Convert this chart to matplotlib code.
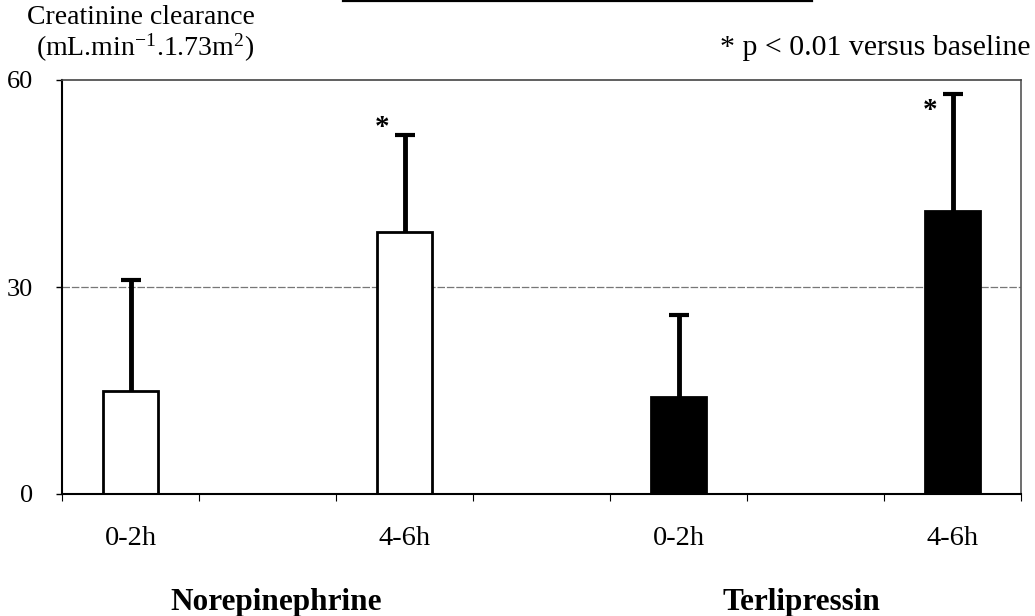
import matplotlib
matplotlib.use("Agg")
import matplotlib.pyplot as plt
from matplotlib.lines import Line2D

plt.rcParams["font.family"] = ["Liberation Serif", "DejaVu Serif"]
plt.rcParams["mathtext.fontset"] = "stix"

periods = ["0-2h", "4-6h", "0-2h", "4-6h"]
groups = ["Norepinephrine", "Terlipressin"]
means = [15, 38, 14, 41]
sds = [16, 14, 12, 17]
significant = [False, True, False, True]

slots = [0, 2, 4, 6]  # empty slots between bars
fills = ["white", "white", "black", "black"]

fig = plt.figure(figsize=(10.35, 6.16), dpi=100)
ax = fig.add_axes([62 / 1035, 122 / 616, 959 / 1035, 414 / 616])

ax.axhline(30, color="#777777", lw=0.9, ls=(0, (6, 1.5)), zorder=0)
ax.bar(slots, means, width=0.4, color=fills, edgecolor="black", linewidth=2, zorder=2)
_, caps, _ = ax.errorbar(slots, means, yerr=[[0] * len(sds), sds], fmt="none",
                         ecolor="black", elinewidth=3.5, capsize=7.5, capthick=3, zorder=3)
caps[0].set_visible(False)  # only the upper cap

# significance stars next to the caps
star_offsets = {1: 8, 3: -17}
for i, sig in enumerate(significant):
    if sig:
        ax.annotate("*", (slots[i], means[i] + sds[i]), xytext=(-22, star_offsets[i]),
                    textcoords="offset pixels", ha="center", va="center",
                    fontsize=21, fontweight="bold")

ax.set_xlim(-0.5, 6.5)
ax.set_ylim(0, 60)
ax.set_yticks([0, 30, 60])
ax.tick_params(axis="y", labelsize=19, length=4, width=1, pad=17)
ax.set_xticks(slots)
ax.set_xticklabels(periods)
ax.set_xticks([x - 0.5 for x in range(8)], minor=True)
ax.tick_params(axis="x", which="major", length=0, labelsize=20.5, pad=23)
ax.tick_params(axis="x", which="minor", length=5, width=0.8, direction="out")

ax.spines["left"].set_linewidth(1.5)
ax.spines["bottom"].set_linewidth(1.5)
ax.spines["top"].set_color("#444444")
ax.spines["top"].set_linestyle((0, (6, 1)))
ax.spines["top"].set_linewidth(1.2)
ax.spines["right"].set_color("#555555")
ax.spines["right"].set_linewidth(1.2)

for label, xpos in zip(groups, [1.06, 4.9]):
    ax.text(xpos, -0.262, label, transform=ax.get_xaxis_transform(), ha="center",
            va="center", fontsize=22.5, fontweight="bold")

fig.text(27 / 1035, 1 - 18 / 616, "Creatinine clearance", ha="left", va="center", fontsize=20)
fig.text(36 / 1035, 1 - 48 / 616, r"(mL.min$^{\mathregular{-1}}$.1.73m$^{\mathregular{2}}$)",
         ha="left", va="center", fontsize=20)
fig.text(1031 / 1035, 1 - 48 / 616, "* p < 0.01 versus baseline", ha="right", va="center",
         fontsize=21.5)

fig.add_artist(Line2D([343 / 1035, 812 / 1035], [1 - 1 / 616] * 2, color="black", lw=1.6))

fig.savefig("out.png", dpi=100)
